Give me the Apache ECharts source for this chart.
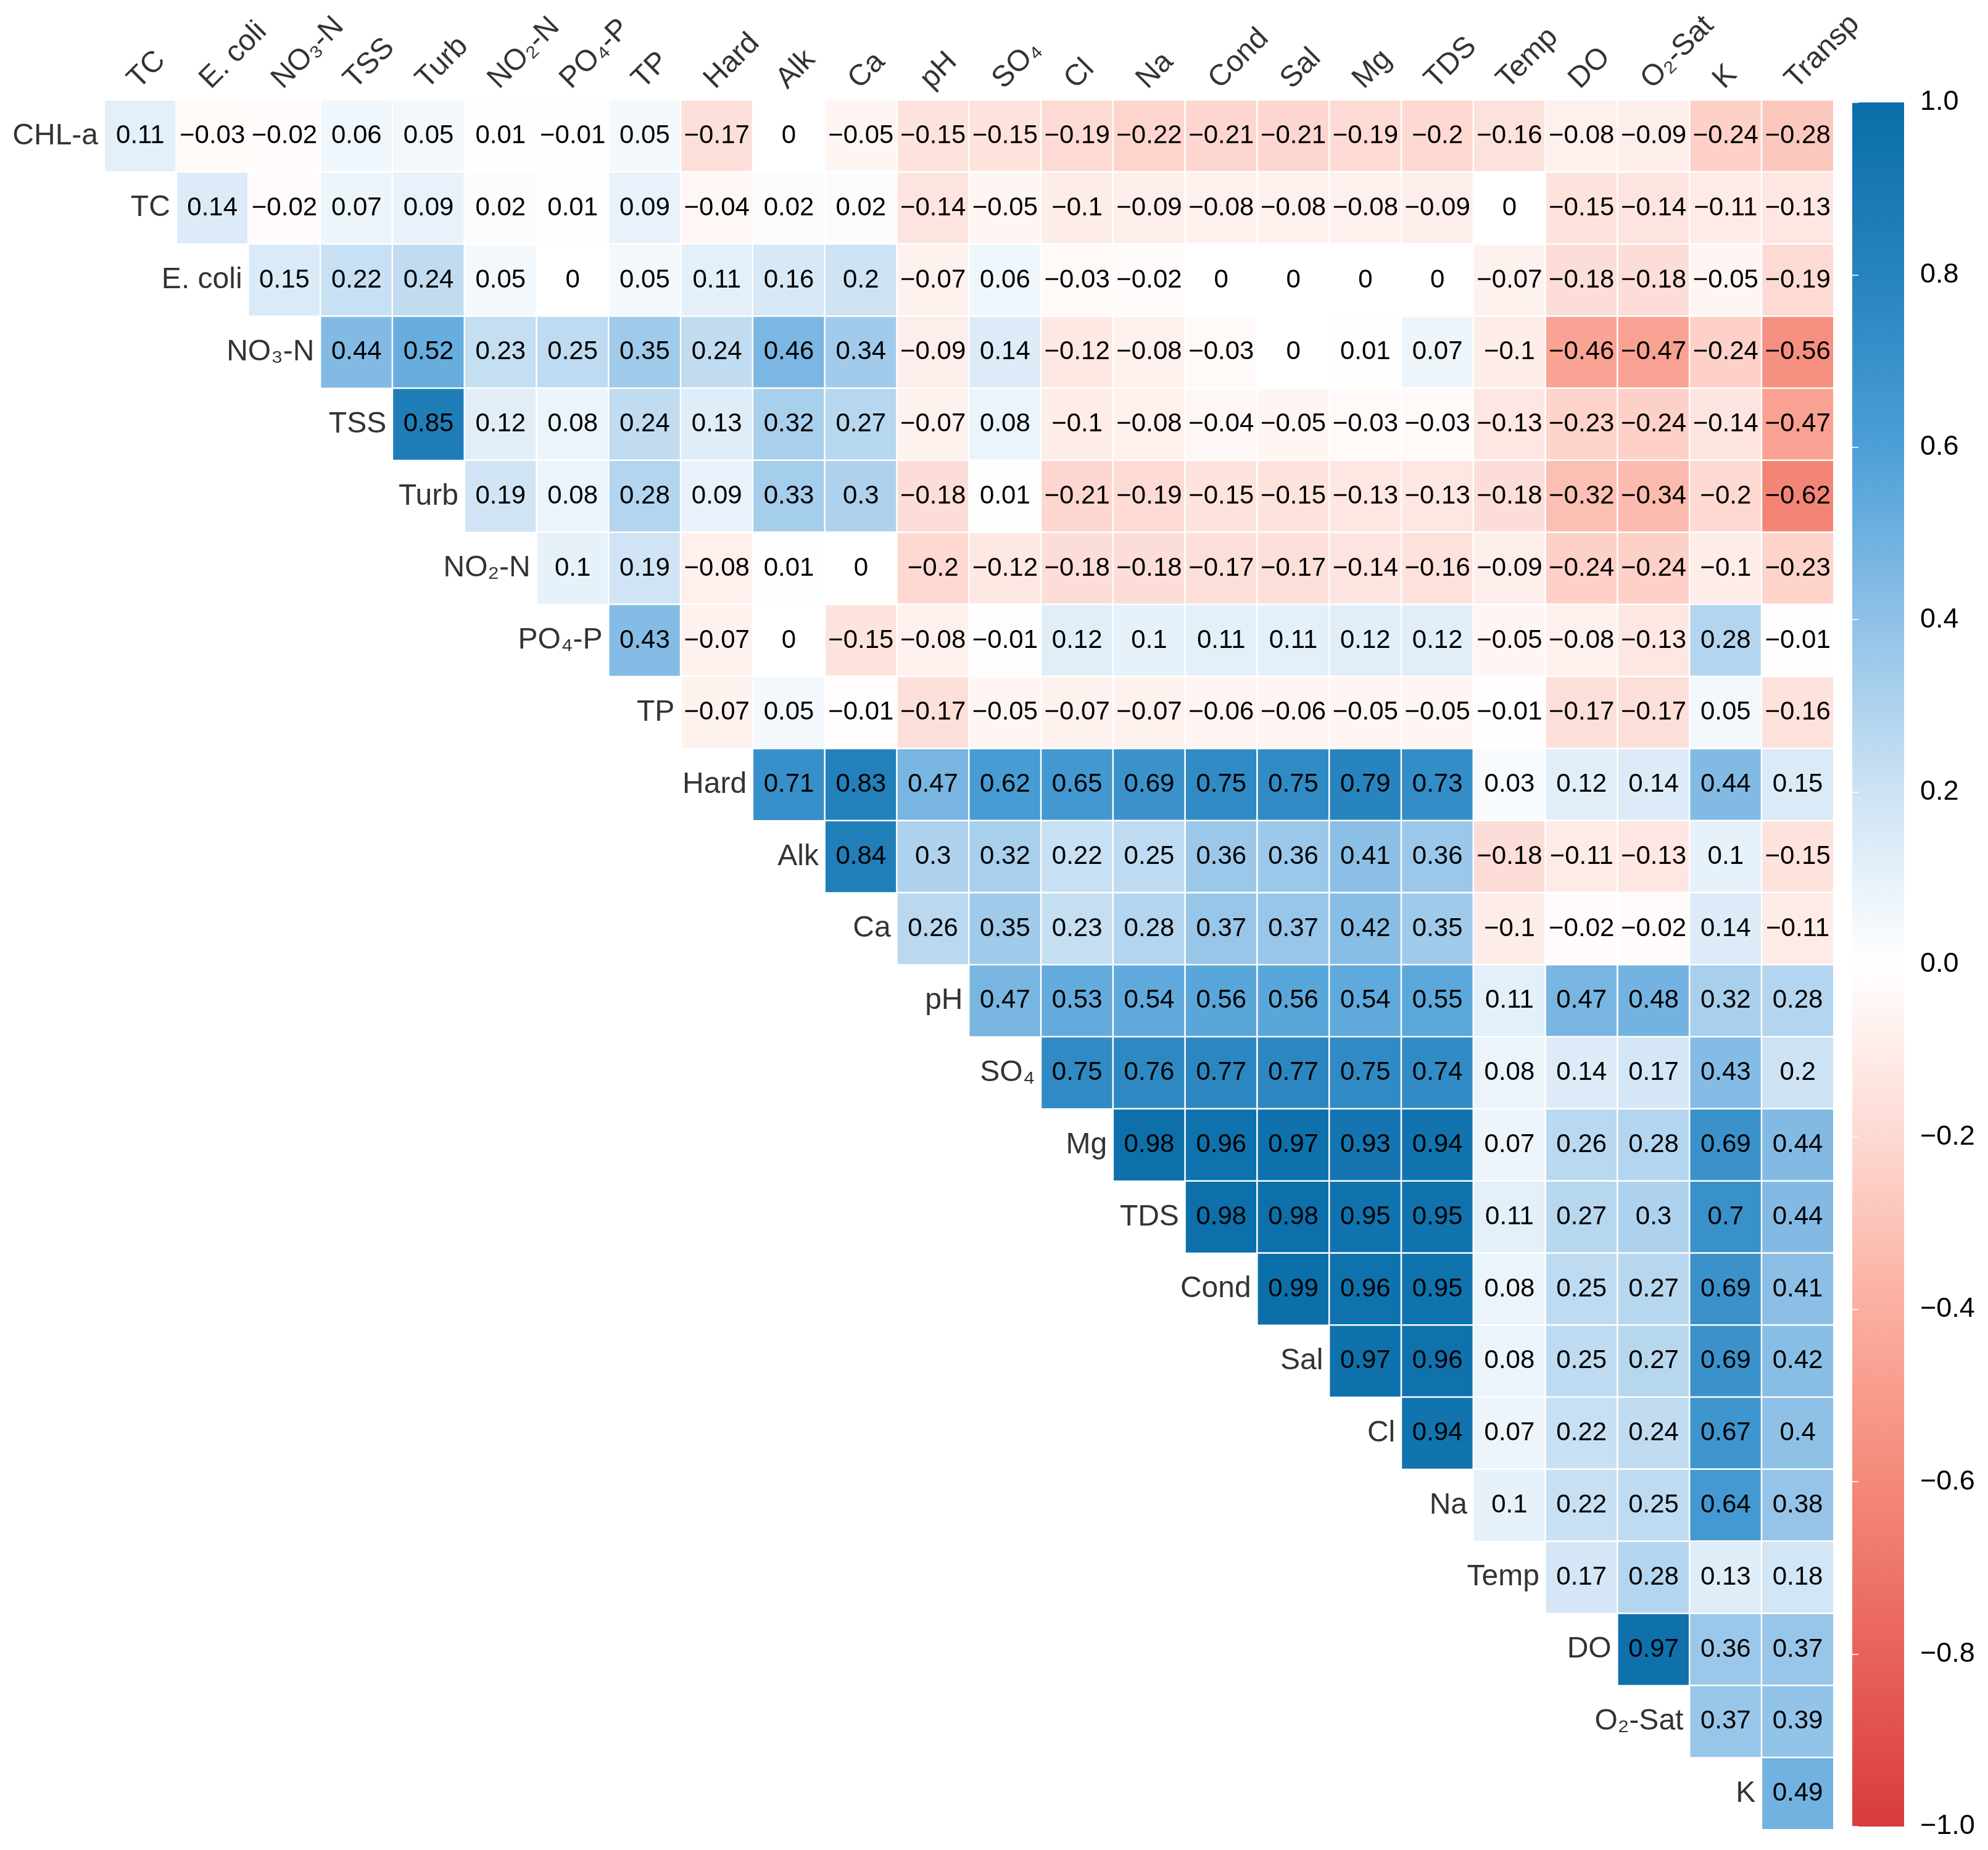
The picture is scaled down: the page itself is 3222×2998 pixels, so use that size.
<!DOCTYPE html>
<html>
<head>
<meta charset="utf-8">
<title>Correlation matrix</title>
<script src="https://cdn.jsdelivr.net/npm/echarts@6/dist/echarts.min.js"></script>
<style>
    html, body { margin: 0; padding: 0; background: #fff; }
    #chart { width: 3222px; height: 2998px; }
</style>
</head>
<body>
<div id="chart"></div>
<script>
// column order (top) and row order (left), rows start on the diagonal
var columns = ['TC', 'E. coli', 'NO₃-N', 'TSS', 'Turb', 'NO₂-N', 'PO₄-P', 'TP', 'Hard', 'Alk', 'Ca', 'pH',
    'SO₄', 'Cl', 'Na', 'Cond', 'Sal', 'Mg', 'TDS', 'Temp', 'DO', 'O₂-Sat', 'K', 'Transp'];
var rowNames = ['CHL-a', 'TC', 'E. coli', 'NO₃-N', 'TSS', 'Turb', 'NO₂-N', 'PO₄-P', 'TP', 'Hard', 'Alk', 'Ca',
    'pH', 'SO₄', 'Mg', 'TDS', 'Cond', 'Sal', 'Cl', 'Na', 'Temp', 'DO', 'O₂-Sat', 'K'];

var chla  = [0.11, -0.03, -0.02, 0.06, 0.05, 0.01, -0.01, 0.05, -0.17, 0, -0.05, -0.15, -0.15, -0.19, -0.22, -0.21, -0.21, -0.19, -0.2, -0.16, -0.08, -0.09, -0.24, -0.28];
var tc    = [0.14, -0.02, 0.07, 0.09, 0.02, 0.01, 0.09, -0.04, 0.02, 0.02, -0.14, -0.05, -0.1, -0.09, -0.08, -0.08, -0.08, -0.09, 0, -0.15, -0.14, -0.11, -0.13];
var ecoli = [0.15, 0.22, 0.24, 0.05, 0, 0.05, 0.11, 0.16, 0.2, -0.07, 0.06, -0.03, -0.02, 0, 0, 0, 0, -0.07, -0.18, -0.18, -0.05, -0.19];
var no3n  = [0.44, 0.52, 0.23, 0.25, 0.35, 0.24, 0.46, 0.34, -0.09, 0.14, -0.12, -0.08, -0.03, 0, 0.01, 0.07, -0.1, -0.46, -0.47, -0.24, -0.56];
var tss   = [0.85, 0.12, 0.08, 0.24, 0.13, 0.32, 0.27, -0.07, 0.08, -0.1, -0.08, -0.04, -0.05, -0.03, -0.03, -0.13, -0.23, -0.24, -0.14, -0.47];
var turb  = [0.19, 0.08, 0.28, 0.09, 0.33, 0.3, -0.18, 0.01, -0.21, -0.19, -0.15, -0.15, -0.13, -0.13, -0.18, -0.32, -0.34, -0.2, -0.62];
var no2n  = [0.1, 0.19, -0.08, 0.01, 0, -0.2, -0.12, -0.18, -0.18, -0.17, -0.17, -0.14, -0.16, -0.09, -0.24, -0.24, -0.1, -0.23];
var po4p  = [0.43, -0.07, 0, -0.15, -0.08, -0.01, 0.12, 0.1, 0.11, 0.11, 0.12, 0.12, -0.05, -0.08, -0.13, 0.28, -0.01];
var tp    = [-0.07, 0.05, -0.01, -0.17, -0.05, -0.07, -0.07, -0.06, -0.06, -0.05, -0.05, -0.01, -0.17, -0.17, 0.05, -0.16];
var hard  = [0.71, 0.83, 0.47, 0.62, 0.65, 0.69, 0.75, 0.75, 0.79, 0.73, 0.03, 0.12, 0.14, 0.44, 0.15];
var alk   = [0.84, 0.3, 0.32, 0.22, 0.25, 0.36, 0.36, 0.41, 0.36, -0.18, -0.11, -0.13, 0.1, -0.15];
var ca    = [0.26, 0.35, 0.23, 0.28, 0.37, 0.37, 0.42, 0.35, -0.1, -0.02, -0.02, 0.14, -0.11];
var ph    = [0.47, 0.53, 0.54, 0.56, 0.56, 0.54, 0.55, 0.11, 0.47, 0.48, 0.32, 0.28];
var so4   = [0.75, 0.76, 0.77, 0.77, 0.75, 0.74, 0.08, 0.14, 0.17, 0.43, 0.2];
var mg    = [0.98, 0.96, 0.97, 0.93, 0.94, 0.07, 0.26, 0.28, 0.69, 0.44];
var tds   = [0.98, 0.98, 0.95, 0.95, 0.11, 0.27, 0.3, 0.7, 0.44];
var cond  = [0.99, 0.96, 0.95, 0.08, 0.25, 0.27, 0.69, 0.41];
var sal   = [0.97, 0.96, 0.08, 0.25, 0.27, 0.69, 0.42];
var cl    = [0.94, 0.07, 0.22, 0.24, 0.67, 0.4];
var na    = [0.1, 0.22, 0.25, 0.64, 0.38];
var temp  = [0.17, 0.28, 0.13, 0.18];
var dO    = [0.97, 0.36, 0.37];
var o2sat = [0.37, 0.39];
var k     = [0.49];

var rowValues = [chla, tc, ecoli, no3n, tss, turb, no2n, po4p, tp, hard, alk, ca,
    ph, so4, mg, tds, cond, sal, cl, na, temp, dO, o2sat, k];

// colour scale, from -1 to 1
var scaleValues = [-1, -0.8, -0.6, -0.4, -0.2, 0, 0.2, 0.4, 0.6, 0.8, 1];
var scaleColors = ['#d83b3d', '#e8625c', '#f4897a', '#fbae9f', '#fdd9d2', '#ffffff',
    '#cde3f4', '#8fc1e7', '#4c9fd7', '#2683bd', '#0a6ea9'];

var FONT = "'Liberation Sans', Arial, sans-serif";
var LABEL_SIZE = 48;

var cells = [];
rowValues.forEach(function (vals, r) {
    vals.forEach(function (v, j) {
        cells.push([r + j, r, v]);
    });
});

function fmt(v) {
    if (Math.abs(v) < 1e-9) return '0';
    return String(v).replace('-', '\u2212');
}

var gridL = 169, gridT = 162, gridS = 2803;
var cell = gridS / columns.length;

var myChart = echarts.init(document.getElementById('chart'));
var option = {
    backgroundColor: '#fff',
    animation: false,
    textStyle: {fontFamily: FONT},
    grid: [
        {left: gridL, top: gridT, width: gridS, height: gridS},
        {left: 3002, top: 166, width: 84, height: 2794}
    ],
    xAxis: [
        {
            type: 'category', gridIndex: 0, data: columns, position: 'top',
            axisLine: {show: false}, axisTick: {show: false}, axisLabel: {show: false},
            splitLine: {show: false}
        },
        {type: 'value', gridIndex: 1, min: 0, max: 1, show: false}
    ],
    yAxis: [
        {
            type: 'category', gridIndex: 0, data: rowNames, inverse: true,
            axisLine: {show: false}, axisTick: {show: false}, axisLabel: {show: false},
            splitLine: {show: false}
        },
        {
            type: 'value', gridIndex: 1, min: -1, max: 1, interval: 0.2, position: 'right', z: 5,
            axisLine: {show: false},
            axisTick: {show: true, inside: true, length: 10, lineStyle: {color: 'rgba(255,255,255,0.8)', width: 2}},
            splitLine: {show: false},
            axisLabel: {
                margin: 26, fontSize: 45, color: '#000', fontFamily: FONT,
                formatter: function (v) {
                    if (Math.abs(v) < 1e-9) return '0.0';
                    return (v < 0 ? '\u2212' : '') + Math.abs(v).toFixed(1);
                }
            }
        },
        {
            type: 'value', gridIndex: 1, min: -1, max: 1, interval: 0.2, position: 'left', z: 5,
            axisLine: {show: false},
            axisTick: {show: true, inside: true, length: 10, lineStyle: {color: 'rgba(255,255,255,0.8)', width: 2}},
            splitLine: {show: false}, axisLabel: {show: false}
        }
    ],
    visualMap: {
        show: false,
        type: 'continuous',
        min: -1,
        max: 1,
        seriesIndex: 0,
        inRange: {color: scaleColors}
    },
    series: [
        {
            name: 'corr',
            type: 'heatmap',
            xAxisIndex: 0,
            yAxisIndex: 0,
            data: cells,
            itemStyle: {borderColor: '#fff', borderWidth: 2.5},
            label: {
                show: true, fontSize: 42, color: '#000', fontFamily: FONT,
                formatter: function (p) { return fmt(p.value[2]); }
            }
        },
        {
            // row names sit left of the diagonal cell
            name: 'rows',
            type: 'scatter',
            xAxisIndex: 0,
            yAxisIndex: 0,
            symbol: 'rect',
            symbolSize: cell,
            itemStyle: {color: 'rgba(0,0,0,0)'},
            silent: true,
            data: rowNames.map(function (n, i) { return {name: n, value: [i, i]}; }),
            label: {
                show: true, position: 'left', distance: 10,
                fontSize: LABEL_SIZE, color: '#000', fontFamily: FONT,
                formatter: '{b}'
            }
        },
        {
            // slanted column names above the first row
            name: 'cols',
            type: 'scatter',
            xAxisIndex: 0,
            yAxisIndex: 0,
            symbol: 'rect',
            symbolSize: cell,
            itemStyle: {color: 'rgba(0,0,0,0)'},
            silent: true,
            data: columns.map(function (n, j) { return {name: n, value: [j, 0]}; }),
            label: {
                show: true, position: [cell / 2 + 5, -9], rotate: 45,
                align: 'left', verticalAlign: 'bottom',
                fontSize: LABEL_SIZE, color: '#000', fontFamily: FONT,
                formatter: '{b}'
            }
        },
        {
            // colour bar
            name: 'colorbar',
            type: 'custom',
            xAxisIndex: 1,
            yAxisIndex: 1,
            silent: true,
            data: [[0, 0]],
            renderItem: function (params, api) {
                var a = api.coord([0, 1]);
                var b = api.coord([1, -1]);
                var stops = scaleValues.map(function (v, i) {
                    return {offset: (1 - v) / 2, color: scaleColors[i]};
                });
                return {
                    type: 'rect',
                    shape: {x: a[0], y: a[1], width: b[0] - a[0], height: b[1] - a[1]},
                    style: {fill: new echarts.graphic.LinearGradient(0, 0, 0, 1, stops)}
                };
            }
        }
    ]
};
myChart.setOption(option);
</script>
</body>
</html>
